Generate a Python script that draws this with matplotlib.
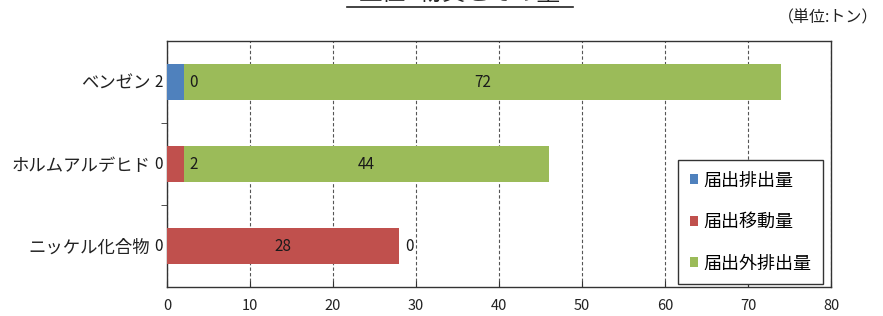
import matplotlib
matplotlib.use("Agg")
import matplotlib.pyplot as plt
from matplotlib.lines import Line2D
import numpy as np

plt.rcParams['font.family'] = ['Noto Sans CJK JP', 'DejaVu Sans']

categories = ['ベンゼン', 'ホルムアルデヒド', 'ニッケル化合物']
series_names = ['届出排出量', '届出移動量', '届出外排出量']
emission = [2, 0, 0]
transfer = [0, 2, 28]
outside = [72, 44, 0]
colors = ['#4F81BD', '#C0504D', '#9BBB59']
xticks = [0, 10, 20, 30, 40, 50, 60, 70, 80]
title = '上位3物質とその量'
unit_label = '（単位:トン）'

W, H = 883, 316
fig = plt.figure(figsize=(W / 100, H / 100), dpi=100)
ax = fig.add_axes([167 / W, (H - 287) / H, 664 / W, 246 / H])

y = np.arange(len(categories))
bar_h = 0.43
series = [emission, transfer, outside]
left = np.zeros(len(categories))
for vals, col, name in zip(series, colors, series_names):
    vals = np.array(vals, dtype=float)
    ax.barh(y, vals, left=left, height=bar_h, color=col, label=name, zorder=3)
    left = left + vals

# data labels
lab_col = '#1a1a1a'
left = np.zeros(len(categories))
for si, vals in enumerate(series):
    for i, v in enumerate(vals):
        start = left[i]
        end = start + v
        if si == 0:
            ax.annotate(str(v), xy=(0, y[i]), xytext=(-3, 0), textcoords='offset points',
                        ha='right', va='center', fontsize=11, color=lab_col)
        elif v >= 10:
            ax.text((start + end) / 2, y[i], str(v), ha='center', va='center',
                    fontsize=11, color=lab_col, zorder=5)
        else:
            ax.annotate(str(v), xy=(end, y[i]), xytext=(4, 0), textcoords='offset points',
                        ha='left', va='center', fontsize=11, color=lab_col, zorder=5)
    left = left + np.array(vals, dtype=float)

ax.set_xlim(0, 80)
ax.set_ylim(2.5, -0.5)
ax.set_xticks(xticks)
ax.set_xticklabels([str(t) for t in xticks], fontsize=10.5, color='#222222')
ax.tick_params(axis='x', direction='in', length=4, pad=9, color='#333333')
ax.set_yticks(y)
ax.set_yticklabels(categories, fontsize=12.5, color='#222222')
ax.tick_params(axis='y', length=0, pad=12)
ax.set_yticks([0.5, 1.5], minor=True)
ax.tick_params(axis='y', which='minor', direction='out', length=4, color='#333333')
ax.xaxis.grid(True, linestyle=(0, (3, 2)), color='#555555', linewidth=0.8, zorder=0)
ax.set_axisbelow(True)
for s in ax.spines.values():
    s.set_color('#333333')
    s.set_linewidth(1.0)

leg = ax.legend(loc='upper left', bbox_to_anchor=(678 / W, 1 - 160 / H),
                bbox_transform=fig.transFigure, fontsize=13,
                handlelength=0.45, handleheight=0.45, handletextpad=0.3,
                labelspacing=1.3, borderpad=0.65, borderaxespad=0,
                fancybox=False, framealpha=1, edgecolor='#333333')
leg.get_frame().set_linewidth(1.0)

fig.text(878 / W, 1 - 18 / H, unit_label, ha='right', va='center', fontsize=11.5, color='#222222')
fig.text(460 / W, 1 - 5 / H, title, ha='center', va='bottom', fontsize=17, color='#222222')
fig.add_artist(Line2D([347 / W, 573 / W], [1 - 7 / H, 1 - 7 / H], transform=fig.transFigure,
                      color='#222222', linewidth=1.2))

fig.savefig('out.png', dpi=100)
